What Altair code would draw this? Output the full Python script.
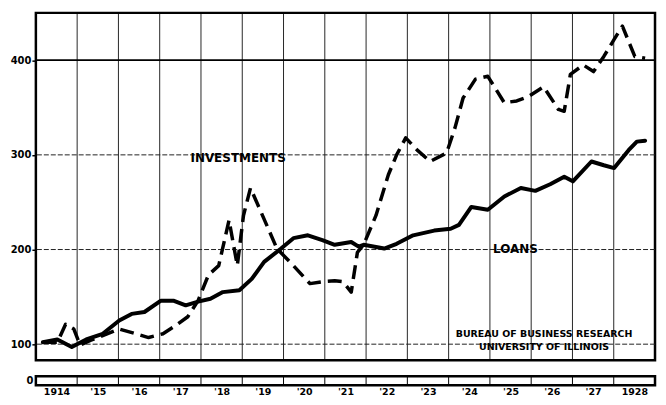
import altair as alt
import pandas as pd

# ---- data (decimal year, index value) ----
loans_t = [1914.17, 1914.52, 1914.87, 1915.22, 1915.62, 1916.02, 1916.32, 1916.63,
           1917.03, 1917.33, 1917.63, 1917.93, 1918.23, 1918.53, 1918.93, 1919.23,
           1919.53, 1919.94, 1920.24, 1920.59, 1920.94, 1921.24, 1921.64, 1921.82,
           1921.94, 1922.44, 1922.74, 1923.14, 1923.65, 1924.05, 1924.25, 1924.55,
           1924.95, 1925.35, 1925.75, 1926.10, 1926.46, 1926.80, 1927.01, 1927.46,
           1927.76, 1928.01, 1928.36, 1928.56, 1928.76]
loans_v = [102, 105, 97, 105, 111, 125, 132, 134,
           146, 146, 141, 145, 148, 155, 157, 169,
           187, 201, 212, 215, 210, 205, 208, 203,
           205, 201, 206, 215, 220, 222, 226, 245,
           242, 256, 265, 262, 269, 277, 272, 293,
           289, 286, 305, 314, 315]

inv_t = [1914.17, 1914.52, 1914.72, 1914.92, 1915.07, 1915.32, 1915.62, 1916.02,
         1916.42, 1916.73, 1917.08, 1917.43, 1917.68, 1917.93, 1918.18, 1918.43,
         1918.68, 1918.88, 1919.03, 1919.20, 1919.38, 1919.63, 1919.84, 1920.24,
         1920.64, 1920.94, 1921.24, 1921.44, 1921.64, 1921.79, 1921.94, 1922.24,
         1922.54, 1922.74, 1922.96, 1923.24, 1923.55, 1923.95, 1924.15, 1924.35,
         1924.65, 1924.95, 1925.35, 1925.65, 1925.95, 1926.30, 1926.66, 1926.80,
         1926.95, 1927.26, 1927.51, 1927.76, 1928.01, 1928.21, 1928.51, 1928.76]
inv_v = [102, 102, 121, 116, 99, 104, 109, 116,
         111, 107, 111, 121, 129, 146, 173, 183,
         231, 183, 236, 265, 247, 222, 201, 183,
         164, 166, 167, 166, 155, 197, 205, 236,
         279, 300, 318, 305, 293, 302, 328, 360,
         380, 383, 355, 357, 362, 372, 348, 346,
         385, 395, 388, 404, 422, 436, 404, 402]

year_bounds = list(range(1915, 1929))
label_pos = [y + 0.5 for y in range(1914, 1929)]
y_ticks = [100, 200, 300, 400]
minor_grid = [100, 200, 300]
major_grid = [400]

notes_text = ["INVESTMENTS", "LOANS"]
notes_t = [1918.9, 1925.62]
notes_v = [297, 201]
credit_text = ["BUREAU OF BUSINESS RESEARCH", "UNIVERSITY OF ILLINOIS"]
credit_t = [1926.31, 1926.31]
credit_v = [110.5, 96.5]

FONT = "DejaVu Sans"
W = 622
EXT = 26
xscale = alt.Scale(domain=[1914, 1929], nice=False, zero=False)
yscale = alt.Scale(domain=[83, 450], nice=False, zero=False)

loans = pd.DataFrame({"t": loans_t, "v": loans_v})
inv = pd.DataFrame({"t": inv_t, "v": inv_v})
vg = pd.DataFrame({"t": year_bounds})
hg = pd.DataFrame({"v": minor_grid})
hg4 = pd.DataFrame({"v": major_grid})
notes = pd.DataFrame({"t": notes_t, "v": notes_v, "s": notes_text})
credit = pd.DataFrame({"t": credit_t, "v": credit_v, "s": credit_text})

yaxis = alt.Axis(values=y_ticks, grid=False, domain=False, tickColor="black",
                 tickSize=4, tickWidth=1.5, labelFont=FONT, labelFontWeight="bold",
                 labelFontSize=10, labelColor="black", labelPadding=1,
                 minExtent=EXT, maxExtent=EXT, title=None)

vrules = alt.Chart(vg).mark_rule(color="black", strokeWidth=1, opacity=0.85).encode(
    x=alt.X("t:Q", scale=xscale, axis=None))
hrules = alt.Chart(hg).mark_rule(color="#222", strokeWidth=1, strokeDash=[5, 2]).encode(
    y=alt.Y("v:Q", scale=yscale, axis=yaxis))
hrule4 = alt.Chart(hg4).mark_rule(color="black", strokeWidth=1.8).encode(
    y=alt.Y("v:Q", scale=yscale))

loans_line = alt.Chart(loans).mark_line(color="black", strokeWidth=4,
                                        strokeJoin="round", strokeCap="round").encode(
    x=alt.X("t:Q", scale=xscale), y=alt.Y("v:Q", scale=yscale))
inv_line = alt.Chart(inv).mark_line(color="black", strokeWidth=3.5,
                                    strokeDash=[14, 7], strokeJoin="round").encode(
    x=alt.X("t:Q", scale=xscale), y=alt.Y("v:Q", scale=yscale))

note_marks = alt.Chart(notes).mark_text(font=FONT, fontWeight="bold", fontSize=12,
                                        color="black").encode(
    x=alt.X("t:Q", scale=xscale), y=alt.Y("v:Q", scale=yscale), text="s:N")
credit_marks = alt.Chart(credit).mark_text(font=FONT, fontWeight="bold", fontSize=9.5,
                                           color="black").encode(
    x=alt.X("t:Q", scale=xscale), y=alt.Y("v:Q", scale=yscale), text="s:N")

main = alt.layer(vrules, hrules, hrule4, loans_line, inv_line, note_marks,
                 credit_marks).properties(width=W, height=349)

label_expr = ("datum.value < 1915 ? '1914' : datum.value > 1928 ? '1928' : "
              "\"'\" + substring(toString(floor(datum.value)), 2, 4)")
lower_x_axis = alt.Axis(values=label_pos, labelExpr=label_expr, grid=False, ticks=False,
                        domain=False, labelFont=FONT, labelFontWeight="bold",
                        labelFontSize=9.5, labelColor="black", labelPadding=1,
                        labelFlush=False, title=None)
lower_yaxis = alt.Axis(values=[0], grid=False, domain=False, ticks=False,
                       labelFont=FONT, labelFontWeight="bold", labelFontSize=10,
                       labelColor="black", labelPadding=3, minExtent=EXT, maxExtent=EXT,
                       title=None)
lower_rules = alt.Chart(vg).mark_rule(color="black", strokeWidth=1).encode(
    x=alt.X("t:Q", scale=xscale, axis=lower_x_axis),
    y=alt.value(0), y2=alt.value(9))
lower_axis_holder = alt.Chart(pd.DataFrame({"v": [0]})).mark_point(opacity=0).encode(
    y=alt.Y("v:Q", scale=alt.Scale(domain=[-1, 1]), axis=lower_yaxis))
lower = alt.layer(lower_rules, lower_axis_holder).properties(width=W, height=9)

chart = alt.vconcat(main, lower, spacing=12).properties(
    padding={"left": 0, "top": 2, "right": 0, "bottom": 0},
    background="white"
).configure_view(stroke="black", strokeWidth=2.5)

chart.save("out.html", embed_options={"renderer": "svg", "actions": False})
